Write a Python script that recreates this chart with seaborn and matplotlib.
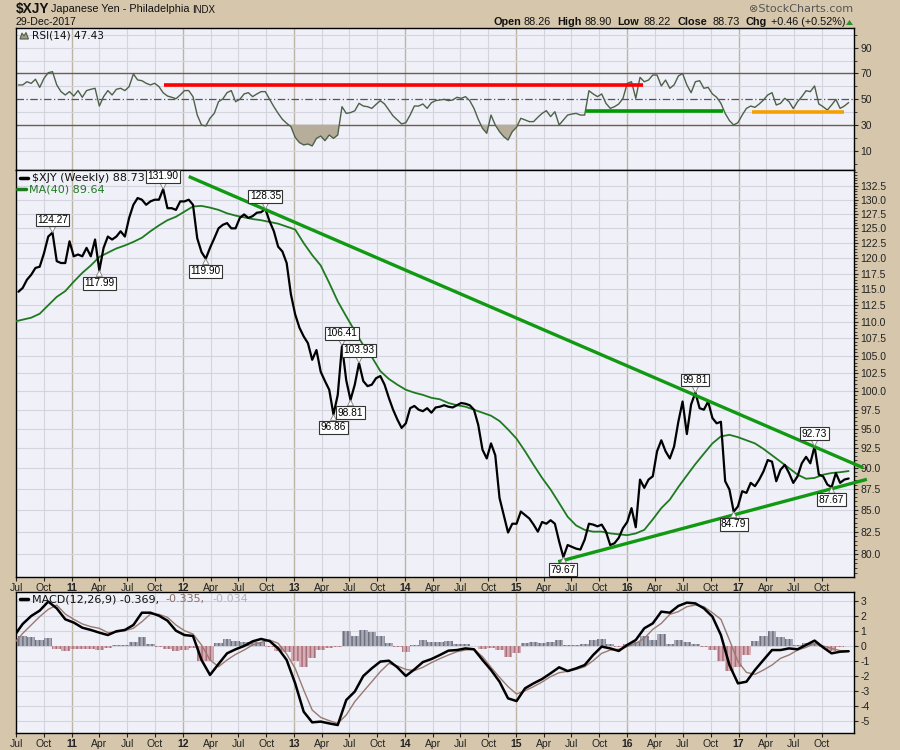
import numpy as np
import pandas as pd
import matplotlib
matplotlib.use("Agg")
import matplotlib.pyplot as plt
import matplotlib.patches as mpatches
from matplotlib.ticker import FixedLocator, FuncFormatter, NullFormatter
import seaborn as sns

# ---------------- data ----------------
price = [114.6, 115.2, 116.5, 117.3, 118.4, 118.6, 120.8, 123.6, 124.27, 119.5,
         119.2, 119.2, 122.8, 120.3, 120.6, 120.3, 121.7, 120.3, 123.1, 117.99,
         121.7, 123.6, 123.1, 123.6, 124.5, 123.6, 126.8, 129.1, 130.3, 130.0,
         129.1, 129.7, 130.0, 130.0, 131.90, 128.5, 128.5, 128.2, 129.7, 129.7,
         130.0, 129.1, 123.3, 121.0, 119.90, 121.7, 123.3, 125.0, 125.6, 125.9,
         125.0, 125.0, 126.8, 127.4, 126.8, 127.1, 127.7, 127.8, 128.35, 126.2,
         124.5, 121.9, 121.1, 119.2, 114.2, 111.1, 109.1, 107.8, 106.8, 104.4,
         105.8, 102.7, 101.4, 100.2, 96.86, 99.5, 106.41, 101.5, 98.81, 100.9,
         103.93, 101.4, 100.7, 100.9, 101.8, 102.1, 100.9, 99.1, 97.5, 96.2,
         95.1, 95.7, 97.7, 98.0, 97.5, 97.3, 97.7, 97.1, 97.8, 97.9,
         98.1, 97.9, 97.8, 98.1, 98.4, 98.3, 98.1, 97.5, 95.5, 92.3,
         91.2, 93.1, 91.6, 86.4, 84.4, 82.4, 83.4, 83.4, 84.8, 84.4,
         84.0, 83.3, 82.5, 83.6, 83.4, 83.8, 83.4, 81.4, 79.67, 81.0,
         80.8, 80.6, 80.5, 81.6, 83.4, 83.3, 83.1, 83.3, 82.5, 81.0,
         81.2, 81.8, 82.9, 83.6, 85.2, 83.0, 88.6, 87.6, 88.6, 89.0,
         92.1, 93.5, 92.1, 91.2, 92.7, 95.9, 98.6, 94.3, 98.2, 99.81,
         97.7, 97.5, 98.6, 96.4, 95.7, 95.9, 88.4, 87.4, 84.79, 85.4,
         87.2, 87.0, 88.2, 87.8, 88.6, 89.6, 91.0, 90.8, 88.4, 89.8,
         90.4, 89.4, 88.2, 89.0, 90.6, 91.4, 90.6, 92.73, 89.2, 89.0,
         88.0, 87.67, 89.4, 88.2, 88.6, 88.73]

ma40 = [110.0, 110.3, 110.6, 111.2, 112.5, 113.8, 114.7, 116.2, 117.6, 118.8,
        120.2, 120.9, 121.6, 122.1, 122.7, 123.4, 124.5, 125.5, 126.4, 127.0,
        127.9, 128.8, 128.9, 128.6, 128.2, 127.6, 127.2, 126.9, 126.6, 126.4,
        126.1, 125.8, 125.3, 124.8, 122.5, 120.5, 118.8, 116.0, 113.1, 110.8,
        108.6, 106.5, 104.8, 102.8, 101.7, 100.9, 100.2, 99.8, 99.5, 99.1,
        98.9, 98.4, 98.1, 97.9, 97.5, 97.1, 96.7, 96.0, 94.9, 93.7,
        92.1, 90.4, 88.8, 87.4, 85.8, 84.2, 83.2, 82.7, 82.5, 82.5,
        82.3, 82.2, 82.1, 82.3, 82.7, 83.9, 85.2, 86.2, 87.7, 89.1,
        90.5, 91.8, 93.1, 94.0, 94.2, 93.9, 93.5, 93.1, 92.4, 91.6,
        90.8, 90.0, 89.2, 88.7, 88.8, 89.2, 89.4, 89.5, 89.64]

rsi14 = [61.1, 61.1, 63.6, 62.3, 65.5, 59.2, 66.2, 70.6, 71.4, 61.1,
         55.9, 53.3, 55.9, 52.5, 56.7, 51.5, 56.7, 57.7, 58.5, 44.7,
         52.0, 56.7, 53.3, 57.7, 58.5, 56.7, 59.8, 69.6, 65.0, 64.4,
         62.4, 61.1, 62.4, 59.8, 55.0, 52.5, 51.5, 50.4, 53.3, 56.7,
         56.7, 52.0, 37.7, 30.0, 29.2, 35.2, 39.0, 48.1, 50.2, 55.1,
         56.7, 48.1, 49.9, 54.1, 55.1, 52.0, 54.1, 55.9, 55.9, 49.9,
         44.2, 39.0, 34.4, 31.3, 28.7, 20.4, 16.3, 14.5, 15.2, 13.7,
         19.6, 21.4, 17.8, 22.2, 19.6, 22.2, 44.2, 39.0, 39.6, 41.0,
         46.8, 44.7, 44.2, 42.9, 46.0, 48.9, 46.3, 41.6, 37.0, 33.9,
         30.8, 31.8, 37.7, 44.7, 44.7, 46.3, 42.9, 47.3, 48.9, 49.4,
         49.9, 48.9, 49.4, 51.5, 50.7, 52.0, 48.9, 42.9, 34.4, 27.4,
         23.5, 37.7, 30.0, 24.8, 20.9, 18.3, 24.8, 28.2, 35.2, 33.9,
         32.6, 32.6, 36.0, 39.0, 41.1, 36.5, 40.3, 30.0, 33.9, 37.7,
         38.5, 39.0, 37.7, 37.7, 56.6, 54.1, 52.0, 54.1, 46.8, 42.9,
         44.2, 46.3, 50.7, 62.3, 63.6, 50.7, 67.0, 63.6, 64.9, 68.8,
         68.8, 60.3, 64.9, 58.5, 61.1, 68.0, 70.0, 61.1, 55.1, 63.6,
         64.4, 58.5, 59.2, 54.1, 51.5, 46.8, 39.0, 33.4, 30.0, 31.8,
         37.7, 42.9, 44.7, 43.7, 46.3, 49.4, 53.3, 55.1, 45.5, 46.8,
         50.7, 48.1, 42.7, 48.1, 52.0, 56.6, 55.9, 60.3, 46.3, 44.2,
         41.6, 45.5, 49.9, 42.9, 44.7, 47.43]

macd_line = [0.65, 1.45, 1.98, 2.34, 2.94, 2.49, 1.76, 1.54, 1.20, 1.05,
             0.87, 0.71, 0.96, 1.05, 1.38, 2.20, 2.20, 2.00, 1.67, 1.00,
             0.71, 0.65, -0.95, -1.95, -1.22, -0.51, -0.24, -0.02, 0.29, 0.45,
             0.31, -0.18, -0.95, -2.51, -4.40, -5.11, -5.06, -5.18, -5.29, -3.62,
             -3.06, -2.02, -1.51, -1.06, -1.00, -1.44, -2.02, -1.58, -1.09, -0.89,
             -0.62, -0.33, -0.29, -0.18, -0.24, -0.95, -1.62, -2.40, -3.51, -3.69,
             -2.84, -2.51, -2.22, -1.84, -1.44, -1.69, -1.51, -1.29, -0.62, -0.06,
             -0.18, -0.35, 0.05, 0.38, 1.16, 1.49, 2.27, 2.20, 2.65, 2.87,
             2.82, 2.49, 1.94, 0.71, -1.29, -2.51, -2.40, -1.62, -0.95, -0.29,
             -0.29, -0.18, -0.24, 0.05, 0.34, -0.11, -0.51, -0.40, -0.369]

macd_signal = [0.16, 0.82, 1.38, 1.94, 2.42, 2.71, 2.11, 1.76, 1.45, 1.27,
               1.16, 0.87, 0.91, 1.00, 1.16, 1.60, 2.11, 2.09, 1.89, 1.38,
               1.00, 0.78, 0.05, -0.95, -1.40, -0.95, -0.58, -0.29, 0.05, 0.22,
               0.38, 0.16, -0.55, -1.51, -2.95, -4.29, -4.78, -5.00, -5.18, -4.62,
               -3.73, -3.06, -2.40, -1.73, -1.18, -1.35, -1.58, -1.66, -1.44, -1.13,
               -0.86, -0.62, -0.40, -0.29, -0.24, -0.73, -1.44, -2.11, -2.73, -3.22,
               -3.00, -2.73, -2.42, -2.06, -1.80, -1.71, -1.58, -1.40, -1.00, -0.51,
               -0.29, -0.24, -0.06, 0.16, 0.49, 1.09, 1.49, 2.09, 2.27, 2.60,
               2.71, 2.60, 2.20, 1.76, 0.38, -1.06, -1.78, -1.91, -1.62, -1.29,
               -0.84, -0.62, -0.29, -0.11, 0.16, -0.02, -0.18, -0.33, -0.335]

month_names = {1: None, 4: "Apr", 7: "Jul", 10: "Oct"}

# labelled turning points (index into the price series)
label_idx = [8, 19, 34, 44, 58, 74, 76, 78, 80, 128, 159, 168, 187, 191]
label_side = ["up", "down", "up", "down", "up", "down", "up", "down", "up",
              "down", "up", "down", "up", "down"]

# trend lines drawn on the chart
upper_trend_dates = ["2012-01-20", "2018-02-15"]
upper_trend_vals = [134.2, 90.04]
lower_trend_dates = ["2015-05-19", "2018-02-27"]
lower_trend_vals = [79.17, 88.63]

rsi_red_dates = ["2011-10-31", "2016-02-21"]
rsi_red_val = 61.0
rsi_green_dates = ["2015-08-19", "2016-11-12"]
rsi_green_val = 41.1
rsi_orange_dates = ["2017-02-14", "2017-12-15"]
rsi_orange_val = 40.1

dates = pd.date_range("2010-07-09", periods=len(price), freq="14D")
dates4 = pd.date_range("2010-06-25", periods=len(ma40), freq="28D")

df_p = pd.DataFrame({"date": dates, "price": price, "rsi": rsi14})
df_m = pd.DataFrame({"date": dates4, "ma": ma40, "macd": macd_line, "signal": macd_signal})
df_m["hist"] = df_m["macd"] - df_m["signal"]

# ---------------- style ----------------
sns.set_style("white")
plt.rcParams["font.family"] = ["DejaVu Sans"]
plt.rcParams["hatch.linewidth"] = 1.1

W, H = 900, 750
BG = "#d6c7ac"
PANEL = "#eff0f8"
GRID = "#d3d4de"
GRID_Y = "#bdb4a4"

fig = plt.figure(figsize=(9, 7.5), dpi=100, facecolor=BG)


def ax_rect(x0, y0, x1, y1):
    return [x0 / W, 1 - y1 / H, (x1 - x0) / W, (y1 - y0) / H]


def fx(x):
    return x / W


def fy(y):
    return 1 - y / H


XL, XR = 16, 853.5
ax_r = fig.add_axes(ax_rect(XL, 28.3, XR, 169.5))
ax_p = fig.add_axes(ax_rect(XL, 170, XR, 577))
ax_m = fig.add_axes(ax_rect(XL, 592, XR, 733))

xlim = (pd.Timestamp("2010-07-01"), pd.Timestamp("2018-01-14"))
qticks = pd.date_range("2010-07-01", "2017-10-01", freq="QS")

TICKFONT = "Liberation Sans"


def xlabels(ts):
    out = []
    for t in ts:
        out.append(f"{t.year % 100:02d}" if t.month == 1 else month_names[t.month])
    return out


for ax in (ax_r, ax_p, ax_m):
    ax.set_facecolor(PANEL)
    ax.set_xlim(*xlim)
    for t in qticks:
        ax.axvline(t, color=GRID_Y if t.month == 1 else GRID,
                   lw=1.0 if t.month == 1 else 0.8, zorder=0)
    for s in ax.spines.values():
        s.set_color("black")
        s.set_linewidth(1.0)
    ax.yaxis.tick_right()
    ax.set_xticks(qticks)
    ax.tick_params(axis="y", which="major", direction="out", length=3, pad=2,
                   labelsize=7.5, colors="#222222", right=True, left=False)
    ax.tick_params(axis="y", which="minor", direction="out", length=1.8,
                   right=True, left=False, colors="#222222")
    ax.tick_params(axis="x", direction="out", length=3, pad=1, labelsize=7.5,
                   colors="#222222", bottom=True)
    ax.set_xlabel("")
    ax.set_ylabel("")

# ---------------- RSI panel ----------------
ax_r.set_ylim(-4.6, 105.1)
for v in [10, 20, 40, 60, 80, 90, 100]:
    ax_r.axhline(v, color=GRID, lw=0.8, zorder=0)
ax_r.axhline(70, color="#6e5c4e", lw=1.0, zorder=1)
ax_r.axhline(30, color="#6e5c4e", lw=1.0, zorder=1)
ax_r.axhline(50, color="#555555", lw=0.9, ls=(0, (6, 2, 1, 2)), zorder=1)
r = np.array(rsi14)
ax_r.fill_between(dates, r, 30, where=r < 30, interpolate=True,
                  color="#b7ad9b", lw=0, zorder=2)
sns.lineplot(data=df_p, x="date", y="rsi", ax=ax_r, color="#4d6148", lw=1.0,
             estimator=None, zorder=3)
ax_r.plot(pd.to_datetime(rsi_red_dates), [rsi_red_val] * 2, color="#ff0000", lw=2.6, zorder=4,
          solid_capstyle="butt")
ax_r.plot(pd.to_datetime(rsi_green_dates), [rsi_green_val] * 2, color="#009900", lw=2.6, zorder=4,
          solid_capstyle="butt")
ax_r.plot(pd.to_datetime(rsi_orange_dates), [rsi_orange_val] * 2, color="#f5a000", lw=2.6, zorder=4,
          solid_capstyle="butt")
ax_r.yaxis.set_major_locator(FixedLocator([10, 30, 50, 70, 90]))
ax_r.yaxis.set_minor_locator(FixedLocator([0, 20, 40, 60, 80, 100]))
ax_r.tick_params(axis="x", labelbottom=False, length=0)
ax_r.set_xlabel("")
ax_r.set_ylabel("")

# ---------------- Price panel ----------------
sns.lineplot(data=df_m, x="date", y="ma", ax=ax_p, color="#1f7a1f", lw=1.3,
             estimator=None, zorder=3)
sns.lineplot(data=df_p, x="date", y="price", ax=ax_p, color="black", lw=1.6,
             estimator=None, zorder=4)
ax_p.set_yscale("log")
ax_p.set_ylim(77.53, 135.40)
pticks = list(np.arange(80.0, 133.0, 2.5))
for v in pticks:
    ax_p.axhline(v, color=GRID, lw=0.8, zorder=0)
ax_p.yaxis.set_major_locator(FixedLocator(pticks))
ax_p.yaxis.set_major_formatter(FuncFormatter(lambda v, p: f"{v:.1f}"))
ax_p.yaxis.set_minor_locator(FixedLocator(list(np.arange(78.0, 135.01, 0.5))))
ax_p.yaxis.set_minor_formatter(NullFormatter())

for dts, vals in ((upper_trend_dates, upper_trend_vals), (lower_trend_dates, lower_trend_vals)):
    ax_p.plot(pd.to_datetime(dts), vals, color="#119911", lw=2.4, zorder=5,
              clip_on=False, solid_capstyle="butt")

for i, side in zip(label_idx, label_side):
    up = side == "up"
    ax_p.annotate(f"{price[i]:.2f}", xy=(dates[i], price[i]),
                  xytext=(0, 5.5 if up else -5.5), textcoords="offset points",
                  ha="center", va="bottom" if up else "top", fontsize=7.3,
                  family=TICKFONT, color="black", zorder=7,
                  bbox=dict(boxstyle="square,pad=0.14", fc="white", ec="#333333", lw=0.8),
                  arrowprops=dict(arrowstyle="wedge,tail_width=0.6,shrink_factor=0.5",
                                  fc="white", ec="#808080", lw=0.6,
                                  shrinkA=0, shrinkB=0))

ax_p.set_xticklabels(xlabels(qticks), family=TICKFONT)
for lab, t in zip(ax_p.get_xticklabels(), qticks):
    if t.month == 1:
        lab.set_fontweight("bold")
ax_p.set_xlabel("")
ax_p.set_ylabel("")

# ---------------- MACD panel ----------------
ax_m.set_ylim(-5.82, 3.58)
for v in range(-5, 4):
    ax_m.axhline(v, color=GRID, lw=0.8, zorder=0)
hist = df_m["hist"].values
for d, h in zip(df_m["date"], hist):
    fc = "#a9aab8" if h >= 0 else "#d8aeb5"
    hc = "#70717f" if h >= 0 else "#a8707c"
    ax_m.bar(d, h, width=28, color=fc, edgecolor=hc, lw=0, hatch="||||", zorder=2)
sns.lineplot(data=df_m, x="date", y="signal", ax=ax_m, color="#9a7a70", lw=1.0,
             estimator=None, zorder=3)
sns.lineplot(data=df_m, x="date", y="macd", ax=ax_m, color="black", lw=1.8,
             estimator=None, zorder=4)
ax_m.yaxis.set_major_locator(FixedLocator(list(range(-5, 4))))
ax_m.yaxis.set_major_formatter(FuncFormatter(lambda v, p: f"{int(v)}"))
ax_m.set_xticklabels(xlabels(qticks), family=TICKFONT)
for lab, t in zip(ax_m.get_xticklabels(), qticks):
    if t.month == 1:
        lab.set_fontweight("bold")
ax_m.set_xlabel("")
ax_m.set_ylabel("")

for ax in (ax_r, ax_p, ax_m):
    for lab in ax.get_yticklabels():
        lab.set_family(TICKFONT)

# ---------------- texts ----------------
fig.text(fx(16), fy(9.5), "$XJY", fontsize=9.8, fontweight="bold", family=TICKFONT,
         va="center", ha="left", color="#111111")
fig.text(fx(51), fy(9.5), "Japanese Yen - Philadelphia", fontsize=7.8, family=TICKFONT,
         va="center", ha="left", color="#111111")
fig.text(fx(192), fy(10), "INDX", fontsize=7.0, family=TICKFONT,
         va="center", ha="left", color="#111111")
fig.text(fx(16), fy(22.3), "29-Dec-2017", fontsize=7.6, family=TICKFONT,
         va="center", ha="left", color="#111111")
fig.text(fx(853), fy(9.3), "\u2297StockCharts.com", fontsize=8, family="DejaVu Sans",
         va="center", ha="right", color="#555555")

hdr = [("Open", 493.3, True), ("88.26", 524, False), ("High", 557.7, True),
       ("88.90", 584.7, False), ("Low", 617.7, True), ("88.22", 643.3, False),
       ("Close", 677.7, True), ("88.73", 712.3, False), ("Chg", 746, True),
       ("+0.46 (+0.52%)", 770.7, False)]
for txt, x, b in hdr:
    fig.text(fx(x), fy(22.3), txt, fontsize=7.8, family=TICKFONT,
             fontweight="bold" if b else "normal", va="center", ha="left", color="#111111")
fig.patches.append(mpatches.Polygon([[fx(846), fy(25)], [fx(853), fy(25)], [fx(849.5), fy(20)]],
                                    closed=True, transform=fig.transFigure,
                                    fc="#2f8f2f", ec="none"))

# RSI legend with small mountain icon
fig.patches.append(mpatches.Polygon([[fx(20), fy(39)], [fx(22), fy(33)], [fx(24), fy(36)],
                                     [fx(26), fy(32.5)], [fx(28.5), fy(39)]],
                                    closed=True, transform=fig.transFigure,
                                    fc="#a49a86", ec="#4d6148", lw=0.8))
fig.text(fx(31.5), fy(35.5), "RSI(14) 47.43", fontsize=7.6, va="center", ha="left",
         color="#111111")

# price legend
fig.lines.append(plt.Line2D([fx(20), fx(28)], [fy(178), fy(178)], transform=fig.transFigure,
                            color="black", lw=2.5))
fig.text(fx(31.7), fy(178), "$XJY (Weekly) 88.73", fontsize=8, va="center", ha="left",
         color="#111111", zorder=10)
fig.lines.append(plt.Line2D([fx(17), fx(26)], [fy(189), fy(189)], transform=fig.transFigure,
                            color="#1f7a1f", lw=2.5))
fig.text(fx(29.2), fy(189), "MA(40) 89.64", fontsize=8, va="center", ha="left",
         color="#1f7a1f", zorder=10)

# MACD legend
fig.lines.append(plt.Line2D([fx(20), fx(28)], [fy(599), fy(599)], transform=fig.transFigure,
                            color="black", lw=2.5))
fig.text(fx(31.7), fy(599), "MACD(12,26,9) -0.369,", fontsize=8, va="center", ha="left",
         color="#111111")
fig.text(fx(165.7), fy(599), "-0.335,", fontsize=8, va="center", ha="left", color="#8a6e66")
fig.text(fx(212), fy(599), "-0.034", fontsize=8, va="center", ha="left", color="#b4b4bc")

fig.savefig("out.png", dpi=100, facecolor=BG)
